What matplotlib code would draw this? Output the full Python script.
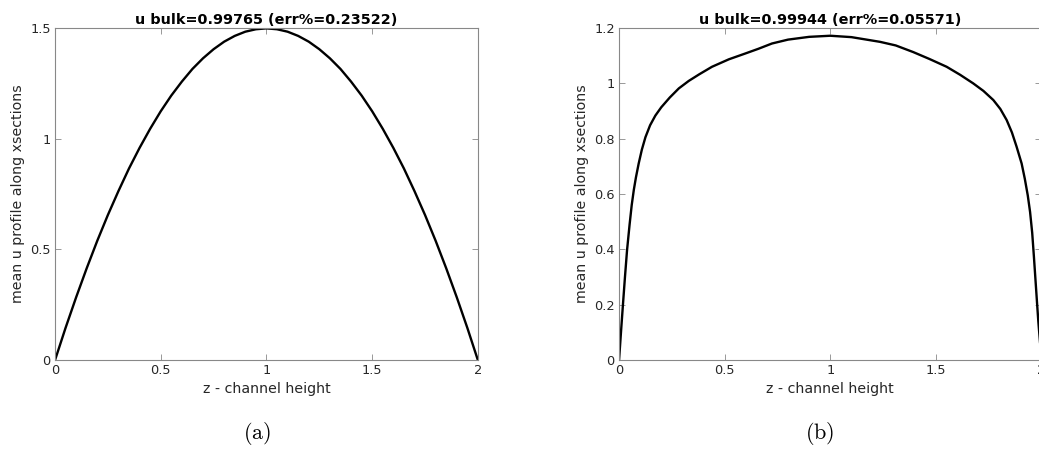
import matplotlib
matplotlib.use("Agg")
import matplotlib.pyplot as plt

plt.rcParams['font.family'] = ['DejaVu Sans']
plt.rcParams['mathtext.fontset'] = 'cm'

# (a) laminar profile
z_a = [0.0, 0.05, 0.1, 0.15, 0.2, 0.25, 0.3, 0.35, 0.4, 0.45, 0.5, 0.55, 0.6, 0.65, 0.7,
       0.75, 0.8, 0.85, 0.9, 0.95, 1.0, 1.05, 1.1, 1.15, 1.2, 1.25, 1.3, 1.35, 1.4, 1.45,
       1.5, 1.55, 1.6, 1.65, 1.7, 1.75, 1.8, 1.85, 1.9, 1.95, 2.0]
u_a = [0.0, 0.146, 0.284, 0.415, 0.539, 0.655, 0.763, 0.865, 0.958, 1.044, 1.123, 1.194,
       1.257, 1.314, 1.362, 1.403, 1.437, 1.463, 1.482, 1.493, 1.497, 1.493, 1.482, 1.463,
       1.437, 1.403, 1.362, 1.314, 1.257, 1.194, 1.123, 1.044, 0.958, 0.865, 0.763, 0.655,
       0.539, 0.415, 0.284, 0.146, 0.0]

# (b) turbulent profile
z_b = [0.0, 0.005, 0.01, 0.019, 0.028, 0.038, 0.05, 0.06, 0.07, 0.08, 0.093, 0.108,
       0.125, 0.147, 0.172, 0.2, 0.24, 0.283, 0.33, 0.38, 0.44, 0.52, 0.598, 0.66, 0.724,
       0.8, 0.9, 1.0, 1.1, 1.2355, 1.31, 1.393, 1.47, 1.551, 1.615, 1.677, 1.725, 1.772,
       1.805, 1.835, 1.86, 1.882, 1.906, 1.921, 1.935, 1.946, 1.956, 1.964, 1.972, 1.98,
       1.985, 2.0]
u_b = [0.0, 0.055, 0.11, 0.206, 0.3, 0.398, 0.49, 0.56, 0.615, 0.66, 0.71, 0.76,
       0.805, 0.848, 0.883, 0.913, 0.948, 0.981, 1.008, 1.032, 1.059, 1.086, 1.107, 1.124, 1.143,
       1.157, 1.167, 1.171, 1.166, 1.149, 1.136, 1.112, 1.087, 1.059, 1.03, 0.999, 0.972, 0.939,
       0.907, 0.867, 0.822, 0.771, 0.71, 0.655, 0.595, 0.535, 0.46, 0.375, 0.285, 0.195,
       0.14, 0.0]

xticks = [0, 0.5, 1, 1.5, 2]
xticklabels = ['0', '0.5', '1', '1.5', '2']
yticks_a = [0, 0.5, 1, 1.5]
yticklabels_a = ['0', '0.5', '1', '1.5']
yticks_b = [0, 0.2, 0.4, 0.6, 0.8, 1.0, 1.2]
yticklabels_b = ['0', '0.2', '0.4', '0.6', '0.8', '1', '1.2']

titles = ['u bulk=0.99765 (err%=0.23522)', 'u bulk=0.99944 (err%=0.05571)']

fig = plt.figure(figsize=(10.39, 4.49), dpi=100)
ax1 = fig.add_axes([0.0529, 0.1975, 0.4071, 0.7408])
# right panel runs slightly past the figure edge, as in the original crop
ax2 = fig.add_axes([0.5958, 0.1975, 0.4066, 0.7408])

panels = [(ax1, z_a, u_a, yticks_a, yticklabels_a, 1.5),
          (ax2, z_b, u_b, yticks_b, yticklabels_b, 1.2)]

for i, (ax, z, u, yt, ytl, ymax) in enumerate(panels):
    ax.plot(z, u, color='black', lw=1.7, solid_joinstyle='round')
    ax.set_xlim(0, 2)
    ax.set_ylim(0, ymax)
    ax.set_xticks(xticks)
    ax.set_xticklabels(xticklabels)
    ax.set_yticks(yt)
    ax.set_yticklabels(ytl)
    ax.tick_params(direction='in', top=True, right=True, length=4, width=0.6,
                   colors='#888888', labelcolor='#262626', labelsize=9.3, pad=3)
    for s in ax.spines.values():
        s.set_color('#888888')
        s.set_linewidth(0.8)
    ax.set_xlabel('z - channel height', fontsize=10.2, color='#262626', labelpad=3)
    ax.set_ylabel('mean u profile along xsections', fontsize=10.2, color='#262626', labelpad=4)
    ax.set_title(titles[i], fontsize=10.4, fontweight='bold', pad=3)

fig.text(0.247, 0.035, r'$\mathrm{(a)}$', fontsize=16, ha='center', va='center')
fig.text(0.789, 0.035, r'$\mathrm{(b)}$', fontsize=16, ha='center', va='center')

fig.savefig('out.png', dpi=100)
